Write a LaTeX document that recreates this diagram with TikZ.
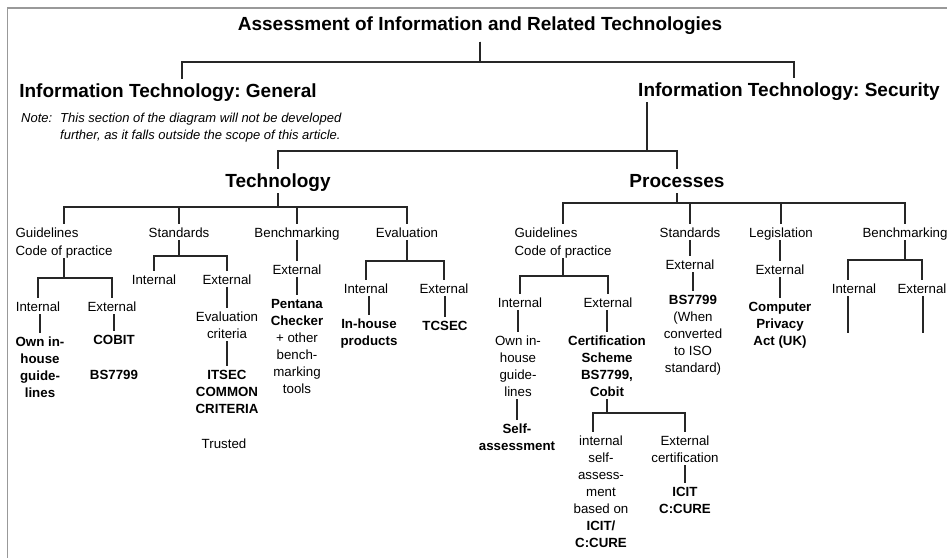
\documentclass[tikz,border=0pt]{standalone}
\usepackage{fontspec}
\setmainfont{Liberation Sans}
\frenchspacing
\newcommand\tstrut{\rule[-3pt]{0pt}{16pt}}
\newcommand\hstrut{\rule[-5pt]{0pt}{24pt}}
\newcommand\branch[3]{\draw[tree] (#1.south) -- (#1.south |- #3) -| (#2);}
\newcommand\chain[2]{\draw[tree] (#2.north |- #1.south) -- (#2.north);}
\tikzset{
	tree/.style={
		line width=1.4pt,
		draw=black!85
	},
	frame/.style={
		line width=1.5pt,
		draw=black!40
	},
	lbl/.style={
		anchor=north,
		align=center,
		inner sep=0pt,
		font=\fontsize{13.3}{17}\selectfont,
		execute at begin node=\tstrut,
		execute at end node=\tstrut
	},
	leaf/.style={
		lbl,
		font=\fontsize{13.3}{17}\selectfont\bfseries
	},
	gl/.style={
		lbl,
		align=left,
		font=\fontsize{13.3}{18}\selectfont
	},
	head/.style={
		anchor=north,
		inner sep=0pt,
		font=\fontsize{19}{22}\selectfont\bfseries,
		execute at begin node=\hstrut,
		execute at end node=\hstrut
	},
	note/.style={
		lbl,
		anchor=north west,
		align=left,
		font=\fontsize{13}{17}\selectfont\itshape
	}
}
\begin{document}
\begin{tikzpicture}[x=1pt,y=-1pt]
	\useasboundingbox (0,0) rectangle (947,558);
	\draw[frame] (947,8) -- (7.5,8) -- (7.5,558);

	% headings
	\node[head,outer ysep=6pt] (title) at (480,5.7) {Assessment of Information and Related Technologies};
	\node[head] (gen)  at (168,78.7) {Information Technology: General};
	\node[head] (sec)  at (789,77.7) {Information Technology: Security};
	\node[note] (notehead) at (21,108.8) {Note:};
	\node[note] (notebody) at (60,108.8) {\tstrut This section of the diagram will not be developed\\further, as it falls outside the scope of this article.};
	\node[head] (tech) at (278,168.7) {Technology};
	\node[head] (proc) at (677,168.7) {Processes};

	% technology
	\node[gl]   (tgl)   at (64,223.8)  {\tstrut Guidelines\\Code of practice};
	\node[lbl]  (tstd)  at (179,223.8) {Standards};
	\node[lbl]  (tbm)   at (297,223.8) {Benchmarking};
	\node[lbl]  (tev)   at (407,223.8) {Evaluation};
	\node[lbl]  (tgli)  at (38,297.8)  {Internal};
	\node[lbl]  (tgle)  at (112,297.8) {External};
	\node[leaf] (tglil) at (40,332.8)  {\tstrut Own in-\\house\\guide-\\lines};
	\node[leaf] (tglel) at (114,330.8) {COBIT};
	\node[leaf] (tglbs) at (114,365.8) {BS7799};
	\node[lbl]  (tsti)  at (154,270.8) {Internal};
	\node[lbl]  (tste)  at (227,270.8) {External};
	\node[lbl]  (tstec) at (227,307.8) {\tstrut Evaluation\\criteria};
	\node[leaf] (tstit) at (227,365.8) {\tstrut ITSEC\\COMMON\\CRITERIA};
	\node[lbl]  (tsttr) at (224,434.8) {Trusted};
	\node[lbl]  (tbme)  at (297,260.8) {External};
	\node[lbl]  (tbmp)  at (297,294.8) {\tstrut\textbf{Pentana}\\\textbf{Checker}\\+ other\\bench-\\marking\\tools};
	\node[lbl]  (tevi)  at (366,279.8) {Internal};
	\node[lbl]  (teve)  at (444,279.8) {External};
	\node[leaf] (tevil) at (369,314.8) {\tstrut In-house\\products};
	\node[leaf] (tevel) at (445,316.8) {TCSEC};

	% processes
	\node[gl]   (pgl)     at (563,223.8) {\tstrut Guidelines\\Code of practice};
	\node[lbl]  (pstd)    at (690,223.8) {Standards};
	\node[lbl]  (pleg)    at (781,223.8) {Legislation};
	\node[lbl]  (pbm)     at (905,223.8) {Benchmarking};
	\node[lbl]  (pgli)    at (520,293.8) {Internal};
	\node[lbl]  (pgle)    at (608,293.8) {External};
	\node[lbl]  (pglil)   at (518,331.8) {\tstrut Own in-\\house\\guide-\\lines};
	\node[leaf] (pglsa)   at (517,419.8) {\tstrut Self-\\assessment};
	\node[leaf] (pglel)   at (607,331.8) {\tstrut Certification\\Scheme\\BS7799,\\Cobit};
	\node[lbl]  (pgls)    at (601,431.8) {\tstrut internal\\self-\\assess-\\ment\\based on\\\textbf{ICIT/}\\\textbf{C:CURE}};
	\node[lbl]  (pglc)    at (685,431.8) {\tstrut External\\certification};
	\node[leaf] (pglcl)   at (685,482.8) {\tstrut ICIT\\C:CURE};
	\node[lbl]  (pstde)   at (690,255.8) {External};
	\node[lbl]  (pstdl)   at (693,290.8) {\tstrut\textbf{BS7799}\\(When\\converted\\to ISO\\standard)};
	\node[lbl]  (plege)   at (780,260.8) {External};
	\node[leaf] (pleglaw) at (780,297.8) {\tstrut Computer\\Privacy\\Act (UK)};
	\node[lbl]  (pbmi)    at (854,279.8) {Internal};
	\node[lbl]  (pbme)    at (922,279.8) {External};

	% bars
	\coordinate (topbar)    at (0,62);
	\coordinate (secjoint)  at (647,151);
	\coordinate (techbar)   at (0,207);
	\coordinate (procbar)   at (0,203);
	\coordinate (tglbar)    at (0,278);
	\coordinate (tstdbar)   at (0,256);
	\coordinate (tevbar)    at (0,261);
	\coordinate (pglbar)    at (0,276);
	\coordinate (pglelbar)  at (0,413);
	\coordinate (pbmbar)    at (0,260);
	\coordinate (pbmiend)   at (848,333);
	\coordinate (pbmeend)   at (923,333);

	% connectors
	\branch{title}{[xshift=14pt]gen.north}{topbar}
	\branch{title}{[xshift=5pt]sec.north}{topbar}
	\draw[tree] (sec.south -| secjoint) -- (secjoint) -| (tech.north);
	\draw[tree] (secjoint) -| (proc.north);
	\foreach \c in {tgl,tstd,tbm,tev} {\branch{tech}{\c.north}{techbar}}
	\foreach \c in {pgl,pstd,pleg,pbm} {\branch{proc}{\c.north}{procbar}}
	\foreach \c in {tgli,tgle} {\branch{tgl}{\c.north}{tglbar}}
	\foreach \c in {tsti,tste} {\branch{tstd}{\c.north}{tstdbar}}
	\foreach \c in {tevi,teve} {\branch{tev}{\c.north}{tevbar}}
	\foreach \c in {pgli,pgle} {\branch{pgl}{\c.north}{pglbar}}
	\branch{pglel}{[xshift=-8pt]pgls.north}{pglelbar}
	\branch{pglel}{pglc.north}{pglelbar}
	\branch{pbm}{[xshift=-6pt]pbmi.north}{pbmbar}
	\branch{pbm}{pbme.north}{pbmbar}
	\foreach \a/\b in {tgli/tglil,tgle/tglel,tste/tstec,tstec/tstit,tbm/tbme,tbme/tbmp,
		tevi/tevil,teve/tevel,pgli/pglil,pglil/pglsa,pgle/pglel,pstd/pstde,pstde/pstdl,
		pleg/plege,plege/pleglaw,pglc/pglcl} {\chain{\a}{\b}}
	\draw[tree] (pbmi.south -| pbmiend) -- (pbmiend);
	\draw[tree] (pbme.south -| pbmeend) -- (pbmeend);
\end{tikzpicture}
\end{document}
